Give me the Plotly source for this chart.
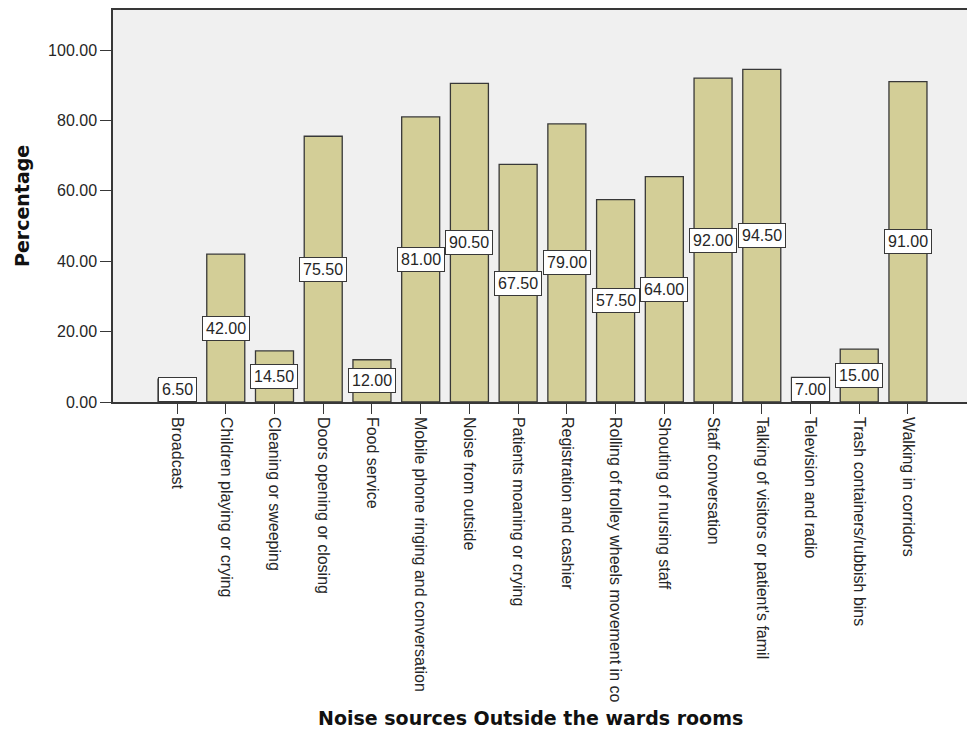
import plotly.graph_objects as go

# Noise sources outside the ward rooms and the share of respondents reporting each
sources = [
    "Broadcast",
    "Children playing or crying",
    "Cleaning or sweeping",
    "Doors opening or closing",
    "Food service",
    "Mobile phone ringing and conversation",
    "Noise from outside",
    "Patients moaning or crying",
    "Registration and cashier",
    "Rolling of trolley wheels movement in co",
    "Shouting of nursing staff",
    "Staff conversation",
    "Talking of visitors or patient's famil",
    "Television and radio",
    "Trash containers/rubbish bins",
    "Walking in corridors",
]
percentages = [6.50, 42.00, 14.50, 75.50, 12.00, 81.00, 90.50, 67.50,
               79.00, 57.50, 64.00, 92.00, 94.50, 7.00, 15.00, 91.00]
y_ticks = [0, 20, 40, 60, 80, 100]

W, H = 967, 744
M_L, M_R, M_T, M_B = 113, 0, 10, 342
plot_w = W - M_L - M_R
plot_h = H - M_T - M_B

AXIS_COL = "#383838"
TXT_COL = "#262626"
FONT = "Liberation Sans, Arial, sans-serif"
TITLE_FONT = "DejaVu Sans, Verdana, sans-serif"

fig = go.Figure()
fig.add_trace(go.Bar(
    x=sources,
    y=percentages,
    width=0.78,
    marker=dict(color="#d3ce97", line=dict(color=AXIS_COL, width=1.3)),
    hoverinfo="x+y",
))

# value labels: white boxes centred at half the bar height, kept above the axis
annotations = []
for name, v in zip(sources, percentages):
    annotations.append(dict(
        x=name, y=max(v / 2, 3.6), xref="x", yref="y",
        text=f"{v:.2f}", showarrow=False,
        font=dict(family=FONT, size=16, color=TXT_COL),
        bgcolor="white", bordercolor=AXIS_COL, borderwidth=1, borderpad=3,
        xanchor="center", yanchor="middle",
    ))

# axis titles
annotations.append(dict(
    x=(22 - M_L) / plot_w, y=0.5, xref="paper", yref="paper",
    text="<b>Percentage</b>", showarrow=False, textangle=-90,
    font=dict(family=TITLE_FONT, size=19, color="#111"),
    xanchor="center", yanchor="middle",
))
annotations.append(dict(
    x=(530 - M_L) / plot_w, y=-(718 - (M_T + plot_h)) / plot_h,
    xref="paper", yref="paper",
    text="<b>Noise sources Outside the wards rooms</b>", showarrow=False,
    font=dict(family=TITLE_FONT, size=19, color="#111"),
    xanchor="center", yanchor="middle",
))

px_per_cat = 48.7
fig.update_layout(
    width=W, height=H,
    margin=dict(l=M_L, r=M_R, t=M_T, b=M_B, autoexpand=False),
    paper_bgcolor="white",
    plot_bgcolor="#f0f0f0",
    showlegend=False,
    annotations=annotations,
    xaxis=dict(
        type="category",
        range=[-(177 - M_L) / px_per_cat, 15 + (W - 908) / px_per_cat],
        showline=True, linecolor=AXIS_COL, linewidth=1.5, mirror=True,
        ticks="outside", ticklen=10, tickcolor=AXIS_COL, tickwidth=1.2,
        tickangle=90,
        tickfont=dict(family=FONT, size=16, color=TXT_COL),
        showgrid=False, zeroline=False, automargin=False,
    ),
    yaxis=dict(
        range=[0, plot_h / 3.52],
        tickvals=y_ticks,
        ticktext=[f"{t:.2f}" for t in y_ticks],
        showline=True, linecolor=AXIS_COL, linewidth=1.5,
        ticks="outside", ticklen=11, tickcolor=AXIS_COL, tickwidth=1.2,
        tickfont=dict(family=FONT, size=16, color=TXT_COL),
        showgrid=False, zeroline=False, automargin=False,
    ),
)

fig.write_html("out.html")
